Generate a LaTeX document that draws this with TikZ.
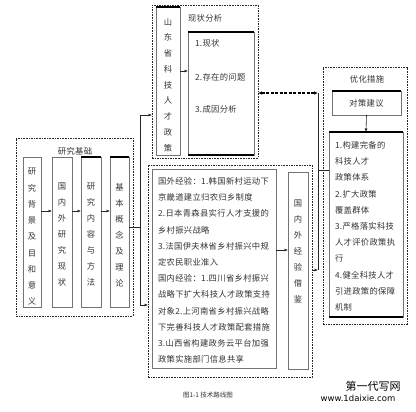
\documentclass[tikz,border=0pt]{standalone}
\usepackage{fontspec}
\newfontfamily\cjk[LetterSpace=4]{Noto Sans CJK SC}
\newfontfamily\cjkplain{Noto Sans CJK SC}
\newfontfamily\wmfont{DejaVu Sans}
\usetikzlibrary{arrows.meta}
\begin{document}
\begin{tikzpicture}[x=1pt,y=-1pt,
  every node/.style={inner sep=0pt,outer sep=0pt},
  txt/.style={font=\cjk\fontsize{8.3}{16.2}\selectfont,text=black!80},
  grp/.style={draw=black!85,line width=0.6pt,dash pattern=on 1.6pt off 1pt},
  box/.style={draw=black!55,line width=0.7pt},
  thickedge/.style={draw=black,line width=1.5pt},
  conn/.style={draw=black!85,line width=0.6pt},
  arr/.style={conn,-{Latex[length=3.5pt,width=3pt]}},
  dbl/.style={draw=black,line width=1.3pt,dash pattern=on 3pt off 1.5pt,{Latex[length=4pt,width=3.5pt]}-{Latex[length=4pt,width=3.5pt]}}
]
\useasboundingbox (0,0) rectangle (416,412);

% ---------- left group ----------
\node[grp,anchor=north west,minimum width=117pt,minimum height=178pt] (g1) at (16,138) {};
\node[txt] (l1) at (75,151) {研究基础};
\node[box,anchor=north west,minimum width=18pt,minimum height=150pt] (b1) at (23,157) {};
\node[box,anchor=north west,minimum width=20pt,minimum height=150pt] (b2) at (52,157) {};
\node[box,anchor=north west,minimum width=20pt,minimum height=150pt] (b3) at (81,157) {};
\node[box,anchor=north west,minimum width=19pt,minimum height=150pt] (b4) at (110,157) {};
\draw[thickedge] (b3.north west) -- (b3.north east);
\draw[thickedge] (b4.north west) -- (b4.north east);
\node[txt,align=center,font=\cjk\fontsize{8.3}{16.25}\selectfont] (t1) at (32,237) {研\\究\\背\\景\\及\\目\\和\\意\\义};
\node[txt,align=center,font=\cjk\fontsize{8.3}{16}\selectfont] (t2) at (62,235) {国\\内\\外\\研\\究\\现\\状};
\node[txt,align=center,font=\cjk\fontsize{8.3}{16}\selectfont] (t3) at (91,235) {研\\究\\内\\容\\与\\方\\法};
\node[txt,align=center,font=\cjk\fontsize{8.3}{16}\selectfont] (t4) at (119.5,235) {基\\本\\概\\念\\及\\理\\论};
\coordinate (ya) at (0,211);
\draw[arr] (b1.east|-ya) -- (b2.west|-ya);
\draw[arr] (b2.east|-ya) -- (b3.west|-ya);
\draw[arr] (b3.east|-ya) -- (b4.west|-ya);

% ---------- top middle group ----------
\node[grp,anchor=north west,minimum width=106pt,minimum height=153pt] (g2) at (152,5) {};
\node[box,anchor=north west,minimum width=24pt,minimum height=148pt] (sd) at (156,7) {};
\draw[thickedge] (sd.north west) -- (sd.north east);
\node[txt,align=center,font=\cjk\fontsize{8.3}{15.75}\selectfont] (sdt) at (168,85) {山\\东\\省\\科\\技\\人\\才\\政\\策};
\node[txt,anchor=west] (l2) at (188,18) {现状分析};
\node[box,anchor=north west,minimum width=66pt,minimum height=123pt] (xz) at (188,32) {};
\draw[thickedge] (xz.north west) -- (xz.north east);
\draw[thickedge] (xz.south west) -- (xz.south east);
\node[txt,anchor=west] (x1) at (195,43) {1.现状};
\node[txt,anchor=west] (x2) at (195,77) {2.存在的问题};
\node[txt,anchor=west] (x3) at (195,109) {3.成因分析};
\coordinate (yb) at (0,71);
\draw[arr] (sd.east|-yb) -- (xz.west|-yb);

% ---------- bottom middle group ----------
\node[grp,anchor=north west,minimum width=164pt,minimum height=212pt] (g3) at (148,165) {};
\node[box,anchor=north west,minimum width=124pt,minimum height=199pt] (tb) at (152,169) {};
\node[txt,anchor=north west,align=left] (tbt) at (158,177.5) {国外经验：1.韩国新村运动下\\京畿道建立归农归乡制度\\2.日本青森县实行人才支援的\\乡村振兴战略\\3.法国伊夫林省乡村振兴中规\\定农民职业准入\\国内经验：1.四川省乡村振兴\\战略下扩大科技人才政策支持\\对象2.上河南省乡村振兴战略\\下完善科技人才政策配套措施\\3.山西省构建政务云平台加强\\政策实施部门信息共享};
\node[box,anchor=north west,minimum width=20pt,minimum height=197pt] (vb) at (288,172) {};
\node[txt,align=center,font=\cjk\fontsize{8.3}{16}\selectfont] (vbt) at (298,251) {国\\内\\外\\经\\验\\借\\鉴};
\coordinate (yc) at (0,250);
\draw[arr] (tb.east|-yc) -- (vb.west|-yc);

% ---------- right group ----------
\node[grp,anchor=north west,minimum width=84pt,minimum height=257pt] (g4) at (323,67) {};
\node[txt] (l4) at (367,79) {优化措施};
\node[box,anchor=north west,minimum width=69pt,minimum height=24pt] (db) at (332,91) {};
\draw[thickedge] (db.north west) -- (db.north east);
\node[txt] (dbt) at (db.center) {对策建议};
\node[box,anchor=north west,minimum width=74pt,minimum height=185pt] (big) at (329,132) {};
\draw[thickedge] (big.north west) -- (big.north east);
\draw[thickedge] (big.south west) -- (big.south east);
\node[txt,anchor=north west,align=left,font=\cjk\fontsize{8.3}{16.2}\selectfont] (bigt) at (335,141.5) {1.构建完备的\\科技人才\\政策体系\\2.扩大政策\\覆盖群体\\3.严格落实科技\\人才评价政策执\\行\\4.健全科技人才\\引进政策的保障\\机制};
\draw[arr] (db.south) -- (big.north);

% ---------- connectors ----------
\coordinate (j) at (140,227);
\coordinate (jt) at (140,115);
\coordinate (jb) at (140,305);
\draw[conn] (b4.east|-j) -- (j);
\draw[conn] (jt) -- (jb);
\draw[arr] (jt) -- (g2.west|-jt);
\draw[arr] (jb) -- (g3.west|-jb);
\coordinate (bt) at (318,93);
\coordinate (bb) at (318,270);
\coordinate (bm) at (318,170);
\draw[dbl] (g2.east|-bt) -- (bt);
\draw[conn] (bt) -- (bb);
\draw[arr] (g3.east|-bb) -- (bb);
\draw[conn] (bm) -- (big.west|-bm);

% ---------- caption and mark ----------
\node[font=\cjkplain\fontsize{6.5}{8}\selectfont,text=black!80] (cap) at (208,395) {图1-1 技术路线图};
\node[font=\cjkplain\fontsize{11}{12}\selectfont] (wm1) at (373,386) {第一代写网};
\node[font=\wmfont\fontsize{8.5}{10}\selectfont] (wm2) at (358,398) {www.1daixie.com};
\end{tikzpicture}
\end{document}
